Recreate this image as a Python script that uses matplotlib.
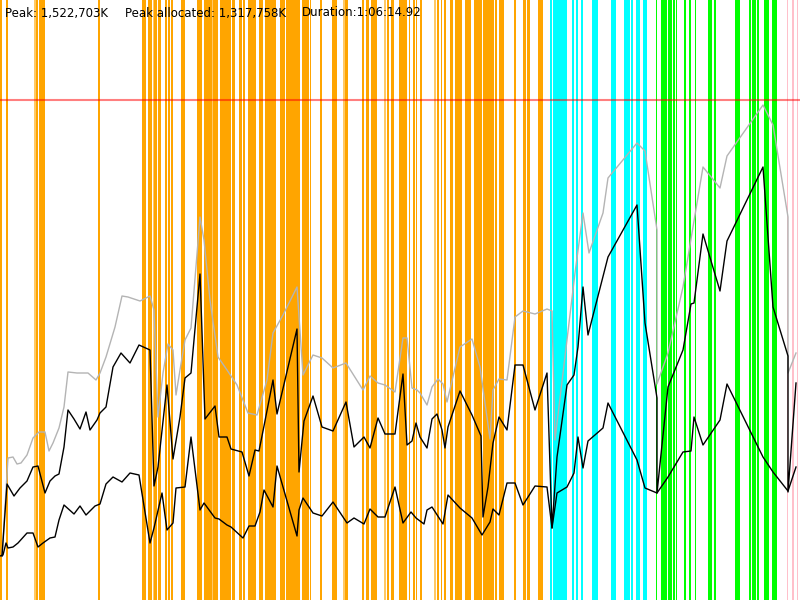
import matplotlib
matplotlib.use("Agg")
import matplotlib.pyplot as plt

# time axis: 0..800 time units (~5 s each); memory axis: 0..600 units (~3 MB each)
title_parts = ["Peak: 1,522,703K", "Peak allocated: 1,317,758K", "Duration:1:06:14.92"]
title_x = [5, 125, 302]
limit_level = 500

# event spans (start, end) in time units
orange_spans = [(0, 2), (6, 8), (36, 38), (39, 45), (98, 99.5), (142, 146), (148, 152),
                (153, 157), (157.5, 161), (165, 167), (168, 170), (171, 173), (181, 185),
                (197, 202), (204, 218), (220, 231), (232, 235), (239, 242), (243, 245),
                (248, 256), (259, 263), (265, 276), (280, 285), (286, 300), (302, 309),
                (310, 311), (320, 322), (332, 337), (345, 348), (362, 364), (366, 369),
                (371, 377), (387, 389), (391, 394), (399, 407), (409, 410), (413, 415),
                (416, 417), (420, 422), (437, 439), (441, 442), (444, 446), (450, 453),
                (455, 462), (465, 471), (474, 482), (483, 494), (495, 497), (499, 504),
                (514, 516), (523, 526), (527, 530), (538, 543)]
light_orange_spans = [(34, 36), (343, 345), (384, 386), (434, 436), (212, 213), (153, 154)]
cyan_spans = [(550, 552), (553, 567), (572, 574), (576, 578), (581, 583), (592, 598),
              (611, 616), (624, 630), (631, 633), (636, 640), (643, 647)]
green_spans = [(656, 657), (661, 667), (668, 672), (673, 675), (676, 677), (684, 686),
               (689, 691), (695, 696), (708, 712), (714, 716), (735, 740), (749, 751),
               (752, 756), (757, 759), (764, 769), (772, 777)]
pink_spans = [(787, 788), (792, 794), (797, 798)]

# heap size (gray)
heap_t = [2, 8, 13, 17, 21, 27, 33, 39, 45, 49, 53, 59, 64, 68, 77, 88, 96, 100, 106, 115,
          122, 128, 140, 150, 154, 158, 163, 168, 173, 176, 180, 185, 191, 200, 204, 210, 218, 227, 237, 248,
          257, 267, 273, 283, 297, 303, 313, 322, 333, 346, 363, 370, 378, 385, 395, 403, 407, 412, 417, 420,
          427, 432, 438, 443, 447, 460, 472, 480, 490, 493, 499, 507, 515, 523, 535, 547, 552, 555, 575, 583,
          589, 603, 608, 637, 645, 657, 657, 668, 683, 703, 720, 727, 763, 773, 788, 788, 796]
heap_v = [44, 142, 143, 136, 137, 145, 162, 168, 168, 149, 157, 172, 193, 228, 227, 227, 220, 227, 243, 273,
          304, 303, 299, 304, 290, 183, 227, 256, 250, 205, 230, 260, 272, 383, 360, 300, 243, 230, 215, 187,
          185, 220, 267, 285, 313, 225, 245, 242, 232, 237, 210, 224, 217, 215, 208, 262, 262, 212, 210, 207,
          195, 213, 221, 216, 198, 253, 261, 233, 161, 210, 221, 220, 283, 289, 286, 291, 289, 160, 327, 387,
          347, 387, 422, 457, 449, 370, 216, 247, 313, 433, 412, 444, 495, 475, 383, 227, 247]

# allocated (black, upper)
alloc_t = [2, 7, 14, 20, 27, 33, 38, 45, 50, 55, 59, 64, 68, 74, 80, 86, 90, 97, 100, 106,
           113, 121, 130, 139, 150, 154, 158, 167, 173, 180, 185, 191, 200, 205, 215, 219, 227, 231, 242, 249,
           255, 259, 264, 273, 277, 297, 299, 304, 313, 322, 333, 346, 354, 364, 370, 378, 385, 395, 403, 407,
           412, 416, 420, 427, 432, 437, 442, 445, 448, 460, 472, 481, 483, 488, 493, 499, 507, 515, 523, 535,
           547, 552, 557, 567, 574, 578, 583, 588, 608, 637, 645, 657, 657, 668, 683, 691, 694, 703, 720, 727,
           763, 773, 788, 788, 796]
alloc_v = [44, 116, 104, 112, 119, 133, 134, 107, 119, 124, 126, 153, 190, 181, 171, 188, 170, 180, 187, 193,
           233, 247, 237, 255, 250, 114, 133, 215, 141, 183, 222, 227, 326, 181, 194, 163, 163, 151, 148, 124,
           150, 149, 174, 220, 186, 271, 128, 179, 204, 173, 169, 198, 153, 163, 152, 182, 166, 166, 226, 155,
           159, 177, 163, 152, 181, 186, 170, 152, 173, 209, 185, 164, 83, 113, 157, 183, 170, 235, 235, 190,
           227, 72, 143, 215, 225, 253, 313, 265, 343, 395, 277, 202, 107, 213, 250, 296, 297, 366, 309, 359,
           433, 293, 244, 108, 217]

# live after GC (black, lower)
live_t = [0, 3, 6, 8, 13, 18, 27, 33, 38, 43, 50, 55, 59, 64, 74, 80, 86, 95, 100, 106,
          113, 122, 130, 139, 150, 154, 162, 167, 173, 176, 185, 191, 200, 204, 215, 219, 227, 231, 243, 249,
          255, 260, 264, 273, 277, 297, 299, 303, 313, 322, 333, 347, 354, 364, 370, 378, 385, 395, 403, 411,
          416, 424, 427, 432, 443, 448, 460, 472, 482, 490, 493, 499, 507, 515, 523, 535, 547, 552, 557, 567,
          574, 578, 583, 588, 603, 608, 637, 645, 657, 668, 683, 691, 694, 703, 720, 727, 763, 773, 788, 796]
live_v = [44, 45, 57, 52, 53, 57, 67, 67, 53, 57, 62, 63, 80, 95, 86, 94, 85, 94, 96, 116,
          123, 118, 127, 125, 57, 72, 107, 70, 77, 112, 113, 163, 90, 97, 82, 81, 75, 73, 62, 74,
          74, 88, 110, 93, 134, 64, 90, 102, 87, 84, 98, 77, 82, 76, 91, 83, 83, 113, 77, 88,
          82, 76, 90, 93, 76, 105, 92, 82, 65, 78, 91, 85, 117, 117, 95, 114, 113, 72, 107, 113,
          127, 163, 132, 159, 172, 197, 140, 112, 107, 123, 148, 149, 183, 155, 180, 216, 143, 128, 109, 133]

fig = plt.figure(figsize=(8, 6), dpi=100)
ax = fig.add_axes([0, 0, 1, 1])
ax.set_xlim(0, 800)
ax.set_ylim(0, 600)
ax.axis("off")

for a, b in orange_spans:
    ax.axvspan(a, b, color="#FFA500", lw=0, zorder=1)
for a, b in light_orange_spans:
    ax.axvspan(a, b, color="#FFC966", lw=0, zorder=1)
for a, b in cyan_spans:
    ax.axvspan(a, b, color="#00FFFF", lw=0, zorder=1)
for a, b in green_spans:
    ax.axvspan(a, b, color="#00FF00", lw=0, zorder=1)
for a, b in pink_spans:
    ax.axvspan(a, b, color="#FFC0CB", lw=0, zorder=1)

ax.axhline(limit_level, color="red", alpha=0.5, lw=1.5, zorder=2)

ax.plot(heap_t, heap_v, color="#B4B4B4", lw=1.0, zorder=3)
ax.plot(alloc_t, alloc_v, color="black", lw=1.0, zorder=4)
ax.plot(live_t, live_v, color="black", lw=1.0, zorder=4)

for txt, px in zip(title_parts, title_x):
    fig.text(px / 800, 1 - 13 / 600, txt, fontsize=8.5, family="DejaVu Sans",
             va="center", ha="left", color="black")

fig.savefig("out.png", dpi=100)
